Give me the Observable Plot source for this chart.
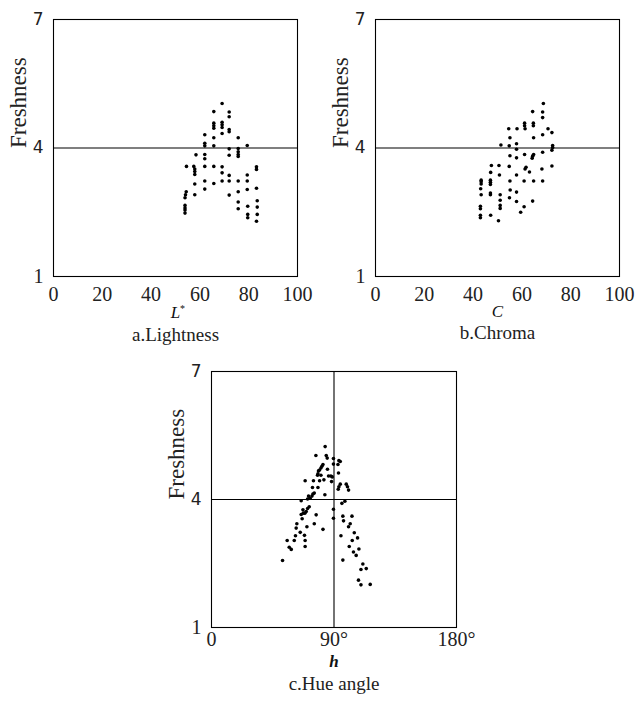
<!DOCTYPE html>
<html>
<head>
<meta charset="utf-8">
<script src="https://cdn.jsdelivr.net/npm/d3@7"></script>
<script src="https://cdn.jsdelivr.net/npm/@observablehq/plot@0.6"></script>
<style>
  html, body { margin: 0; padding: 0; background: #fff; }
  #root { position: relative; width: 636px; height: 701px; background: #fff; overflow: hidden; }
  .panel { position: absolute; }
</style>
</head>
<body>
<div id="root">
  <div class="panel" id="pa" style="left:0px;top:0px"></div>
  <div class="panel" id="pb" style="left:318px;top:0px"></div>
  <div class="panel" id="pc" style="left:150px;top:355px"></div>
</div>
<script>
// ---------- data ----------
const yTicks = [1, 4, 7];
const xTicks100 = [0, 20, 40, 60, 80, 100];
const hueTicks = [0, 90, 180];

// a. Lightness
const lightnessL = [69.1,65.7,72.0,72.0,65.7,65.7,65.7,69.1,69.1,69.1,69.1,72.0,72.0,62.0,65.7,75.7,62.0,62.0,65.7,72.0,72.0,75.7,75.7,75.7,75.7,79.4,58.4,62.0,62.0,54.5,57.5,57.9,57.9,57.9,62.0,65.7,69.1,69.1,72.0,72.0,79.4,83.2,83.2,57.9,62.0,65.7,69.1,75.7,79.4,62.0,54.4,54.1,53.9,57.9,72.0,75.7,79.4,83.2,75.7,75.7,53.9,53.9,53.9,53.9,79.6,79.6,79.6,83.5,83.5,83.5,83.2];
const lightnessF = [5.04,4.85,4.84,4.73,4.58,4.52,4.46,4.60,4.54,4.48,4.34,4.43,4.38,4.31,4.24,4.24,4.11,4.05,4.05,3.98,3.83,3.99,3.91,3.85,3.80,4.06,3.84,3.85,3.75,3.57,3.57,3.51,3.45,3.38,3.57,3.57,3.56,3.42,3.36,3.23,3.37,3.56,3.50,3.16,3.23,3.17,3.23,3.23,3.23,3.04,2.98,2.91,2.84,2.91,2.90,2.98,3.03,3.06,2.74,2.58,2.66,2.60,2.55,2.48,2.64,2.45,2.37,2.77,2.62,2.45,2.29];

// b. Chroma
const chromaC = [68.8,64.4,68.5,68.5,61.1,61.1,61.3,64.7,64.7,58.0,54.6,70.7,72.3,68.5,64.8,55.1,51.4,54.8,57.8,57.8,72.6,72.6,72.3,55.1,57.8,61.1,64.8,64.4,64.2,68.5,47.5,50.6,54.8,61.3,61.7,63.1,68.2,72.3,47.2,50.8,57.8,43.3,43.3,43.3,47.1,47.1,47.1,55.1,60.9,64.8,68.5,43.1,47.1,47.1,43.3,55.2,57.8,51.1,51.1,54.9,57.8,64.4,51.1,51.1,43.0,43.0,60.9,59.5,43.0,43.0,47.2,50.4];
const chromaF = [5.04,4.85,4.84,4.71,4.58,4.52,4.45,4.58,4.52,4.45,4.45,4.45,4.36,4.31,4.24,4.24,4.07,4.05,4.10,3.97,4.06,4.01,3.95,3.82,3.77,3.85,3.85,3.81,3.76,3.90,3.59,3.59,3.57,3.51,3.55,3.44,3.51,3.58,3.43,3.37,3.37,3.25,3.21,3.16,3.25,3.20,3.15,3.23,3.23,3.23,3.23,3.05,2.95,2.91,2.91,3.02,2.97,2.91,2.78,2.84,2.75,2.76,2.66,2.59,2.64,2.58,2.63,2.50,2.43,2.37,2.43,2.30];

// c. Hue angle
const hueH = [83.5,76.7,84.3,85.0,89.6,93.6,94.6,81.9,81.1,80.4,79.4,78.6,89.6,92.9,85.2,78.2,77.9,80.4,86.0,87.7,88.7,93.3,68.8,74.9,79.4,82.6,88.2,94.6,93.6,93.1,99.0,99.9,100.7,74.2,78.2,75.5,71.3,73.8,74.5,83.3,72.5,70.6,65.9,95.8,98.0,71.8,70.6,67.2,69.6,68.6,67.4,89.6,89.6,65.9,66.6,76.9,96.5,97.0,103.2,62.7,62.2,70.1,101.9,100.7,75.5,81.9,65.2,68.3,104.9,95.1,107.3,61.7,55.6,60.8,68.8,68.8,103.4,57.1,58.6,101.2,108.3,104.3,106.3,52.2,96.5,111.2,109.8,113.7,108.0,109.8,116.6];
const hueF = [5.24,5.03,5.03,4.97,4.96,4.91,4.89,4.82,4.78,4.74,4.69,4.67,4.83,4.82,4.71,4.60,4.57,4.57,4.55,4.55,4.53,4.62,4.44,4.44,4.44,4.46,4.42,4.36,4.30,4.24,4.36,4.30,4.22,4.28,4.28,4.15,4.08,4.08,4.13,4.11,4.03,4.01,3.97,3.91,3.96,3.83,3.79,3.76,3.72,3.68,3.68,3.77,3.56,3.65,3.55,3.64,3.61,3.50,3.61,3.43,3.33,3.36,3.43,3.36,3.43,3.30,3.23,3.16,3.22,3.15,3.10,3.15,3.04,3.04,3.04,2.90,3.04,2.88,2.83,2.90,2.84,2.77,2.69,2.57,2.58,2.49,2.36,2.38,2.11,2.00,2.01];

// ---------- drawing ----------
const SERIF = "'Liberation Serif', 'Times New Roman', 'DejaVu Serif', serif";
const SANS = "'DejaVu Sans', 'Liberation Sans', sans-serif";

function panel({xs, ys, xDomain, xTickVals, xFmt, xTickPad, xLabel, xLabelStyle, star, caption, labelDy, captionDy, vline,
                width, height, mLeft, mRight, mTop, mBottom}) {
  const pts = xs.map((v, i) => ({x: v, y: ys[i]}));
  const marks = [
    Plot.ruleY([4], {stroke: "black", strokeWidth: 1.1}),
  ];
  if (vline != null) marks.push(Plot.ruleX([vline], {stroke: "black", strokeWidth: 1.1}));
  marks.push(
    Plot.dot(pts, {x: "x", y: "y", r: 1.8, fill: "black", stroke: "none"}),
    Plot.frame({stroke: "black", strokeWidth: 1.1}),
    Plot.axisX(xTickVals, {tickSize: 0, tickPadding: xTickPad, label: null, tickFormat: xFmt,
                           fontSize: 20, fontFamily: SERIF, fill: "#222"}),
    Plot.axisY([4, 7], {tickSize: 0, tickPadding: 10, label: null, fontSize: 17, fontFamily: SANS, fill: "#222"}),
    Plot.axisY([1], {tickSize: 0, tickPadding: 10, label: null, fontSize: 20, fontFamily: SERIF, fill: "#222"}),
    Plot.text(["Freshness"], {text: d => d, frameAnchor: "left", rotate: -90, dx: -35,
                              fontSize: 23, fontFamily: SERIF, fill: "#222"}),
    Plot.text([xLabel], {text: d => d, frameAnchor: "bottom", dy: labelDy, fontSize: 17, fontFamily: SERIF,
                         fontStyle: "italic", fontWeight: xLabelStyle === "bold" ? "bold" : "normal", fill: "#111"}),
    Plot.text([caption], {text: d => d, frameAnchor: "bottom", dy: captionDy, fontSize: 19, fontFamily: SERIF, fill: "#222"})
  );
  if (star) marks.push(Plot.text(["*"], {text: d => d, frameAnchor: "bottom", dx: 7, dy: labelDy - 6, fontSize: 10, fontFamily: SERIF, fill: "#111"}));
  return Plot.plot({
    width, height,
    marginLeft: mLeft, marginRight: mRight, marginTop: mTop, marginBottom: mBottom,
    x: {domain: xDomain},
    y: {domain: [1, 7]},
    style: {fontFamily: SERIF, fontSize: "20px", background: "white", overflow: "visible"},
    marks
  });
}

document.getElementById("pa").append(panel({
  xs: lightnessL, ys: lightnessF, xDomain: [0, 100], xTickVals: xTicks100, xFmt: d => String(d), xTickPad: 10,
  xLabel: "L", star: true, caption: "a.Lightness", labelDy: 41, captionDy: 64,
  width: 318, height: 355, mLeft: 53, mRight: 21, mTop: 19, mBottom: 79
}));

document.getElementById("pb").append(panel({
  xs: chromaC, ys: chromaF, xDomain: [0, 100], xTickVals: xTicks100, xFmt: d => String(d), xTickPad: 10,
  xLabel: "C", star: false, caption: "b.Chroma", labelDy: 40, captionDy: 62,
  width: 318, height: 355, mLeft: 57, mRight: 17, mTop: 19, mBottom: 79
}));

document.getElementById("pc").append(panel({
  xs: hueH, ys: hueF, xDomain: [0, 180], xTickVals: hueTicks, xFmt: d => d === 0 ? "0" : d + "°", xTickPad: 4,
  xLabel: "h", xLabelStyle: "bold", star: false, caption: "c.Hue angle", labelDy: 39, captionDy: 62, vline: 90,
  width: 340, height: 346, mLeft: 61, mRight: 34, mTop: 16, mBottom: 74
}));
</script>
</body>
</html>
